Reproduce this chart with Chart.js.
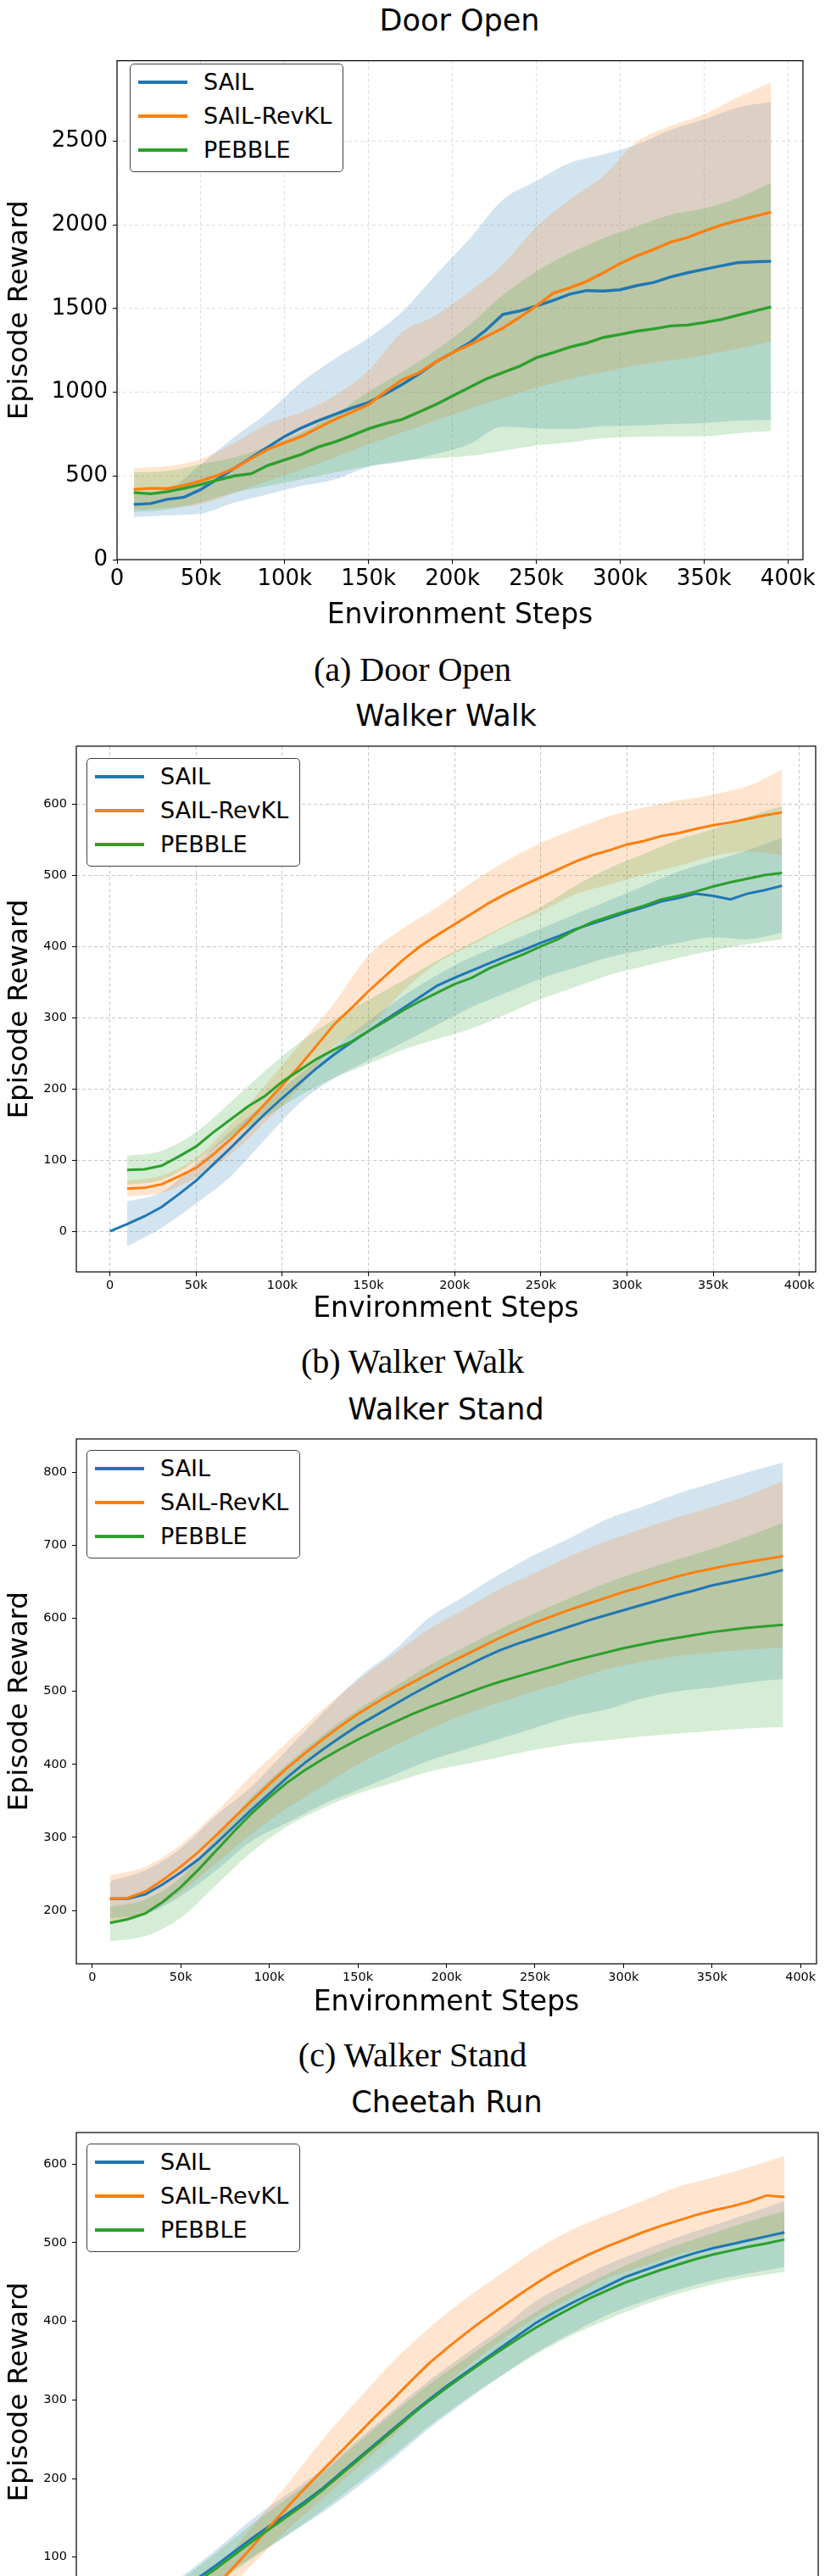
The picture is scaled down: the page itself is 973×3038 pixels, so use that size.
<!DOCTYPE html>
<html>
<head>
<meta charset="utf-8">
<title>Episode reward curves</title>
<script src="https://cdn.jsdelivr.net/npm/chart.js@4.4.1/dist/chart.umd.min.js"></script>
<style>
  html, body { margin: 0; padding: 0; background: #fff; overflow: hidden; }
  body { position: relative; width: 973px; height: 3038px; font-family: 'DejaVu Sans', sans-serif; color: #000; }
  canvas { position: absolute; left: 0; }
  .ttl { position: absolute; width: 600px; text-align: center; font-size: 35px; line-height: 42px; white-space: nowrap; }
  .cap { position: absolute; left: 0; width: 973px; text-align: center; font-family: 'Liberation Serif', serif; font-size: 40px; line-height: 48px; white-space: nowrap; }
  .leg { position: absolute; width: 252px; height: 128px; box-sizing: border-box; border: 1.5px solid #404040; border-radius: 5px; background: #fff; }
  .leg-row { position: absolute; left: 0; width: 100%; height: 40px; }
  .leg-line { position: absolute; left: 9px; top: 18px; width: 58px; height: 4px; }
  .leg-text { position: absolute; left: 86px; top: 0; font-size: 27px; line-height: 40px; white-space: nowrap; }
</style>
</head>
<body>

<div class="ttl" style="left:242px; top:3px;">Door Open</div>
<div class="cap" style="top:766px;">(a) Door Open</div>
<div class="ttl" style="left:226px; top:823px;">Walker Walk</div>
<div class="cap" style="top:1582px;">(b) Walker Walk</div>
<div class="ttl" style="left:226px; top:1641px;">Walker Stand</div>
<div class="cap" style="top:2400px;">(c) Walker Stand</div>
<div class="ttl" style="left:227px; top:2458px;">Cheetah Run</div>

<script>
// ---- series ----
const seriesNames  = ['SAIL', 'SAIL-RevKL', 'PEBBLE'];
const seriesColors = ['#1f77b4', '#ff7f0e', '#2ca02c'];
const bandColors   = ['rgba(31,119,180,0.2)', 'rgba(255,127,14,0.2)', 'rgba(44,160,44,0.2)'];

// ---- x values (thousands of environment steps) ----
const steps = [10,20,30,40,50,60,70,80,90,100,110,120,130,140,150,160,170,180,190,200,
               210,220,230,240,250,260,270,280,290,300,310,320,330,340,350,360,370,380,390];
const walkSteps = [0,10,20,30,40,50,60,70,80,90,100,110,120,130,140,150,160,170,180,190,200,
                   210,220,230,240,250,260,270,280,290,300,310,320,330,340,350,360,370,380,390];
const bandSteps = [10,30,50,70,90,110,130,150,170,190,210,230,250,270,290,310,330,350,370,390];

// ---- tick values ----
const xTicks     = [0,50,100,150,200,250,300,350,400];
const doorYTicks = [0,500,1000,1500,2000,2500];
const walkYTicks = [0,100,200,300,400,500,600];
const standYTicks = [200,300,400,500,600,700,800];
const runYTicks  = [0,100,200,300,400,500,600];

// ---- Door Open ----
const doorSail   = [330,335,360,373,419,482,546,609,673,736,787,830,868,906,939,990,1046,1109,1180,1236,
                    1294,1371,1464,1485,1515,1548,1586,1607,1604,1612,1637,1655,1688,1713,1734,1754,1774,1779,1782];
const doorRevKL  = [419,426,424,444,470,503,546,604,660,698,736,787,838,881,926,1003,1074,1117,1180,1236,
                    1282,1332,1383,1447,1515,1591,1624,1662,1713,1769,1815,1853,1896,1924,1962,1997,2025,2051,2076];
const doorPebble = [401,393,406,426,449,475,500,513,563,596,629,673,703,741,782,812,838,881,926,977,
                    1028,1079,1117,1155,1206,1236,1269,1294,1327,1345,1365,1378,1396,1401,1416,1434,1459,1485,1510];
const doorSailHi   = [400,420,570,733,880,1060,1200,1324,1480,1700,1914,2149,2261,2370,2420,2480,2567,2630,2700,2733];
const doorSailLo   = [254,265,275,340,390,440,480,555,584,630,690,794,784,780,798,800,810,815,830,835];
const doorRevKLHi  = [546,558,600,698,812,880,980,1129,1358,1459,1600,1760,1986,2150,2290,2495,2590,2660,2760,2851];
const doorRevKLLo  = [300,310,330,400,470,540,610,690,760,830,900,965,1028,1080,1120,1160,1190,1222,1260,1303];
const doorPebbleHi = [520,530,571,610,680,760,870,1003,1120,1250,1400,1580,1721,1830,1920,1990,2060,2098,2160,2250];
const doorPebbleLo = [284,300,343,400,440,480,520,558,590,605,620,650,682,700,725,733,735,737,755,768];

// ---- Walker Walk ----
const walkSail   = [0,10,21,34,52,71,94,117,141,165,187,208,229,248,265,281,297,313,329,345,356,
                    366,376,386,395,405,414,424,432,440,448,455,463,468,474,471,466,474,479,485];
const walkRevKL  = [60,61,66,77,89,108,129,153,179,205,232,261,290,313,337,359,381,400,416,431,
                    446,461,474,486,497,508,519,528,535,543,548,555,559,565,570,574,579,584,588];
const walkPebble = [86,87,92,105,119,139,157,175,190,210,226,242,255,266,281,295,310,323,335,347,
                    356,369,379,389,400,410,423,434,442,450,457,466,471,477,484,490,495,500,503];
const walkSailHi   = [42,55,95,140,180,220,258,295,330,360,385,405,425,445,465,485,505,520,535,552];
const walkSailLo   = [-21,5,39,77,129,180,215,240,265,290,315,335,355,370,385,395,405,413,410,419];
const walkRevKLHi  = [71,78,103,150,205,262,320,387,425,455,490,520,545,565,583,595,605,613,625,648];
const walkRevKLLo  = [49,54,75,108,153,202,260,287,337,377,402,428,449,473,487,501,513,527,533,528];
const walkPebbleHi = [106,113,139,181,225,265,297,325,352,380,405,430,455,485,510,530,550,565,582,597];
const walkPebbleLo = [66,72,99,133,160,190,215,235,255,270,285,305,326,343,360,372,384,394,403,410];

// ---- Walker Stand ----
const standSail   = [216,216,222,236,252,270,292,315,338,360,382,402,420,437,453,467,481,495,508,521,
                     533,545,556,565,573,581,589,597,604,611,618,625,632,638,645,650,655,660,666];
const standRevKL  = [216,217,226,242,260,280,303,327,350,373,395,415,434,452,469,484,498,511,524,537,
                     549,561,573,584,594,603,612,620,628,636,643,650,657,663,668,673,677,681,685];
const standPebble = [183,188,196,212,232,256,282,308,333,355,375,392,407,421,434,446,457,468,478,487,
                     496,505,513,520,527,534,541,547,553,559,564,569,573,577,581,584,587,589,591];
const standSailHi   = [240,255,285,330,370,420,470,518,555,600,630,660,687,710,735,752,770,785,800,813];
const standSailLo   = [190,195,220,255,295,320,345,365,385,405,420,435,450,465,475,490,500,505,512,517];
const standRevKLHi  = [248,260,290,335,385,430,475,515,550,585,612,640,662,685,705,722,738,752,768,788];
const standRevKLLo  = [185,195,225,265,305,340,370,400,425,448,468,485,500,515,530,540,548,553,557,560];
const standPebbleHi = [205,215,245,300,355,400,440,475,505,535,560,585,607,628,648,665,680,695,712,731];
const standPebbleLo = [158,165,190,235,280,315,340,360,375,390,400,410,420,428,433,438,442,446,449,451];

// ---- Cheetah Run ----
const runSail   = [18,25,34,45,58,74,90,107,124,140,155,171,188,207,226,245,264,283,301,318,
                   334,350,366,382,398,411,423,434,445,456,464,472,480,487,493,498,503,508,513];
const runRevKL  = [8,12,17,24,33,45,64,88,113,139,164,188,211,234,257,280,302,325,347,366,
                   384,401,417,433,448,462,474,485,495,504,513,521,528,535,541,546,552,560,558];
const runPebble = [16,22,31,42,55,70,86,103,120,136,152,168,186,205,224,243,262,281,299,316,
                   332,348,363,378,392,405,417,429,439,449,457,465,472,479,485,490,495,499,504];
const runSailHi   = [30,48,75,110,148,180,212,250,288,325,358,390,426,450,472,490,507,522,537,553];
const runSailLo   = [5,20,42,70,100,128,157,190,226,264,298,330,360,385,408,425,440,452,461,469];
const runRevKLHi  = [20,30,48,85,138,193,250,301,350,392,428,460,491,516,535,553,571,583,596,610];
const runRevKLLo  = [0,8,20,45,90,135,175,215,255,300,340,375,405,430,455,470,485,495,502,508];
const runPebbleHi = [28,45,72,106,142,175,208,246,284,320,352,383,412,437,460,480,497,512,527,540];
const runPebbleLo = [5,18,40,66,98,128,160,195,230,267,300,330,358,382,402,420,435,447,456,463];

// ---- panel layout ----
const panels = [
  { top: 50,   height: 700, padTop: 12, padRight: 26, yW: 138, xH: 90,
    xMin: 0, xMax: 409, yMin: 0, yMax: 2980, yTicks: doorYTicks, tickSize: 26, lineW: 3.4,
    grid: 'rgba(0,0,0,0.13)', legend: [153, 75],
    xs: [steps, steps, steps],
    means: [doorSail, doorRevKL, doorPebble],
    hi: [doorSailHi, doorRevKLHi, doorPebbleHi], lo: [doorSailLo, doorRevKLLo, doorPebbleLo] },
  { top: 860,  height: 708, padTop: 20, padRight: 11, yW: 90, xH: 68,
    xMin: -19.5, xMax: 409.5, yMin: -57, yMax: 681, yTicks: walkYTicks, tickSize: 14.5, lineW: 3,
    grid: 'rgba(0,0,0,0.22)', legend: [102, 894],
    xs: [walkSteps, steps, steps],
    means: [walkSail, walkRevKL, walkPebble],
    hi: [walkSailHi, walkRevKLHi, walkPebbleHi], lo: [walkSailLo, walkRevKLLo, walkPebbleLo] },
  { top: 1680, height: 706, padTop: 17, padRight: 10, yW: 90, xH: 70,
    xMin: -9, xMax: 409, yMin: 127, yMax: 845.5, yTicks: standYTicks, tickSize: 14.5, lineW: 3,
    grid: null, legend: [102, 1710],
    xs: [steps, steps, steps],
    means: [standSail, standRevKL, standPebble],
    hi: [standSailHi, standRevKLHi, standPebbleHi], lo: [standSailLo, standRevKLLo, standPebbleLo] },
  { top: 2495, height: 702, padTop: 20, padRight: 8, yW: 90, xH: 70,
    xMin: -9, xMax: 409, yMin: -20, yMax: 640, yTicks: runYTicks, tickSize: 14.5, lineW: 3,
    grid: null, legend: [102, 2528],
    xs: [steps, steps, steps],
    means: [runSail, runRevKL, runPebble],
    hi: [runSailHi, runRevKLHi, runPebbleHi], lo: [runSailLo, runRevKLLo, runPebbleLo] }
];

Chart.defaults.font.family = "'DejaVu Sans', sans-serif";
Chart.defaults.color = '#000';

// axes box all round, like matplotlib spines
const frame = {
  id: 'frame',
  afterDraw(chart) {
    const { ctx, chartArea: a } = chart;
    ctx.save();
    ctx.strokeStyle = '#000';
    ctx.lineWidth = 1.2;
    ctx.strokeRect(a.left, a.top, a.right - a.left, a.bottom - a.top);
    ctx.restore();
  }
};

const pts = (xs, ys) => ys.map((y, i) => ({ x: xs[i], y }));
const fixTicks = list => scale => { scale.ticks = list.map(v => ({ value: v })); };

function makePanel(p) {
  const canvas = document.createElement('canvas');
  canvas.width = 973;
  canvas.height = p.height;
  canvas.style.top = p.top + 'px';
  document.body.appendChild(canvas);

  // lines first so they sit on top; PEBBLE is the top-most one
  const lines = [2, 1, 0].map(i => ({
    label: seriesNames[i], data: pts(p.xs[i], p.means[i]),
    borderColor: seriesColors[i], borderWidth: p.lineW, pointRadius: 0, fill: false, order: 0
  }));
  const bands = [];
  [2, 1, 0].forEach(i => {
    bands.push({ data: pts(bandSteps, p.hi[i]), borderColor: 'transparent', backgroundColor: bandColors[i],
                 fill: '+1', pointRadius: 0, cubicInterpolationMode: 'monotone', order: 1 });
    bands.push({ data: pts(bandSteps, p.lo[i]), borderColor: 'transparent',
                 fill: false, pointRadius: 0, cubicInterpolationMode: 'monotone', order: 1 });
  });

  const gridOpts = {
    display: true, drawOnChartArea: !!p.grid, color: p.grid || 'transparent', lineWidth: 1,
    tickLength: 5, tickColor: '#000', tickWidth: 1
  };

  new Chart(canvas, {
    type: 'line',
    data: { datasets: [...lines, ...bands] },
    options: {
      responsive: false, animation: false, devicePixelRatio: 1,
      layout: { padding: { top: p.padTop, right: p.padRight, left: 0, bottom: 0 } },
      plugins: { legend: { display: false }, tooltip: { enabled: false } },
      scales: {
        x: {
          type: 'linear', min: p.xMin, max: p.xMax,
          afterBuildTicks: fixTicks(xTicks),
          afterFit: s => { s.height = p.xH; },
          ticks: { autoSkip: false, maxRotation: 0, padding: 3,
                   font: { size: p.tickSize }, callback: v => v === 0 ? '0' : v + 'k' },
          grid: gridOpts,
          border: { display: false, dash: [4, 3] },
          title: { display: true, text: 'Environment Steps', font: { size: 33 }, padding: { top: 0, bottom: 4 } }
        },
        y: {
          type: 'linear', min: p.yMin, max: p.yMax,
          afterBuildTicks: fixTicks(p.yTicks),
          afterFit: s => { s.width = p.yW; },
          ticks: { autoSkip: false, padding: 6, font: { size: p.tickSize }, callback: v => String(v) },
          grid: gridOpts,
          border: { display: false, dash: [4, 3] },
          title: { display: true, text: 'Episode Reward', font: { size: 32.5 }, padding: { top: 4.5, bottom: 0 } }
        }
      }
    },
    plugins: [frame]
  });

  makeLegend(p.legend[0], p.legend[1]);
}

function makeLegend(left, top) {
  const box = document.createElement('div');
  box.className = 'leg';
  box.style.left = left + 'px';
  box.style.top = top + 'px';
  box.innerHTML = seriesNames.map((name, i) => `
    <div class="leg-row" style="top:${1 + 40 * i}px">
      <span class="leg-line" style="background:${seriesColors[i]}"></span>
      <span class="leg-text">${name}</span>
    </div>`).join('');
  document.body.appendChild(box);
}

panels.forEach(makePanel);
</script>
</body>
</html>
